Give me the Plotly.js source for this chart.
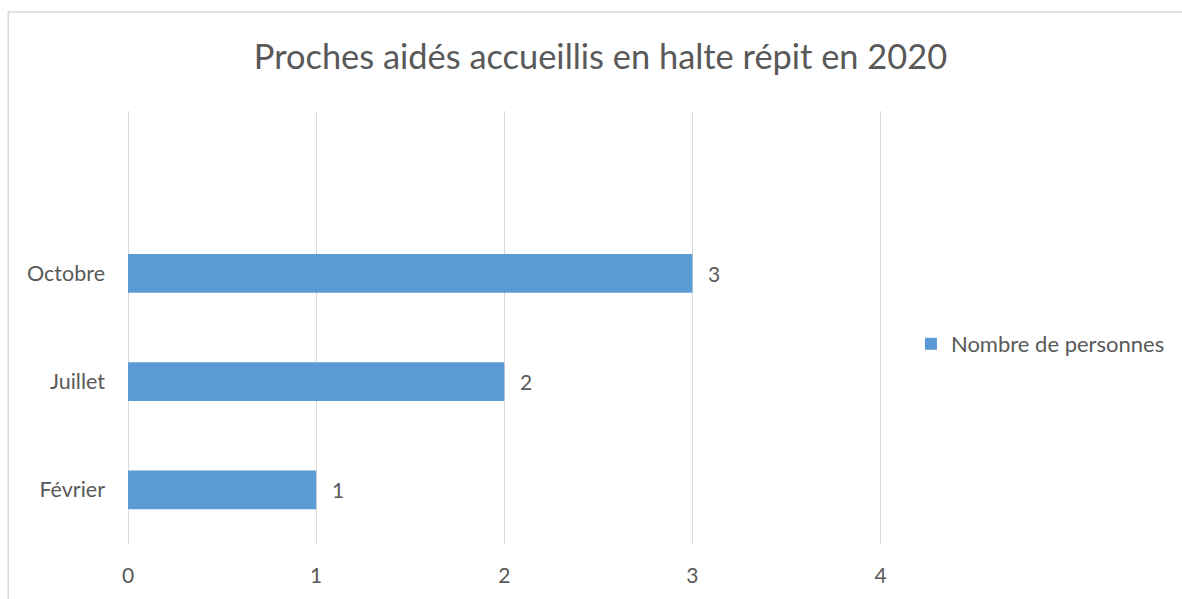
<!DOCTYPE html>
<html>
<head>
<meta charset="utf-8">
<script src="https://cdn.plot.ly/plotly-3.0.1.min.js"></script>
<style>
html,body{margin:0;padding:0;background:#fff;}
#chart{width:1182px;height:599px;}
</style>
</head>
<body>
<div id="chart"></div>
<script>
const categories = ["Février", "Juillet", "Octobre"];
const values = [1, 2, 3];
const seriesName = "Nombre de personnes";
const chartTitle = "Proches aidés accueillis en halte répit en 2020";
const xTicks = [0, 1, 2, 3, 4];

const font = "Lato, 'Open Sans', sans-serif";
const textColor = "#595959";
const gridColor = "#D9D9D9";
const barColor = "#5B9BD5";

const W = 1182, H = 599;
const unitPx = 188.6;
const xMax = 4.05;
const mL = 128, mT = 111, mB = H - 544;
const pw = Math.round(unitPx * xMax);
const mR = W - mL - pw;
const ph = H - mT - mB;

const trace = {
  type: "bar",
  orientation: "h",
  x: values,
  y: categories,
  name: seriesName,
  width: 0.356,
  marker: {color: barColor},
  hoverinfo: "x+y",
  showlegend: true
};

const annotations = values.map((v, i) => ({
  x: v, y: categories[i], xref: "x", yref: "y",
  text: String(v), showarrow: false,
  xanchor: "left", yanchor: "middle", xshift: 14,
  font: {family: font, size: 21, color: textColor}
}));

const layout = {
  width: W, height: H,
  margin: {l: mL, r: mR, t: mT, b: mB, pad: 0},
  paper_bgcolor: "#fff", plot_bgcolor: "#fff",
  font: {family: font, color: textColor},
  title: {
    text: chartTitle,
    x: 600.5 / W, xref: "container", xanchor: "center",
    y: 1 - 57 / H, yref: "container", yanchor: "middle",
    font: {family: font, size: 34.4, color: textColor}
  },
  xaxis: {
    range: [0, xMax],
    tickvals: xTicks,
    ticktext: xTicks.map(String),
    showgrid: true, gridcolor: gridColor, gridwidth: 1,
    zeroline: true, zerolinecolor: gridColor, zerolinewidth: 1,
    showline: false, ticks: "",
    ticklabelstandoff: 17,
    tickfont: {family: font, size: 21, color: textColor},
    fixedrange: true
  },
  yaxis: {
    type: "category",
    categoryorder: "array",
    categoryarray: categories,
    range: [-0.5, 3.5],
    showgrid: false, zeroline: false, showline: false, ticks: "",
    ticklabelstandoff: 22,
    tickfont: {family: font, size: 21.5, color: textColor},
    fixedrange: true
  },
  legend: {
    x: (913 - mL) / pw, xanchor: "left",
    y: (544 - 344) / ph, yanchor: "middle",
    font: {family: font, size: 22, color: textColor},
    bgcolor: "rgba(0,0,0,0)",
    itemclick: false, itemdoubleclick: false
  },
  annotations: annotations,
  shapes: [{
    type: "rect", xref: "paper", yref: "paper",
    x0: (8 - mL) / pw, x1: (1195 - mL) / pw,
    y0: (544 - 610) / ph, y1: (544 - 12) / ph,
    line: {color: gridColor, width: 1.5},
    fillcolor: "rgba(0,0,0,0)", layer: "below"
  }]
};

Plotly.newPlot("chart", [trace], layout, {displayModeBar: false, staticPlot: false});
</script>
</body>
</html>
